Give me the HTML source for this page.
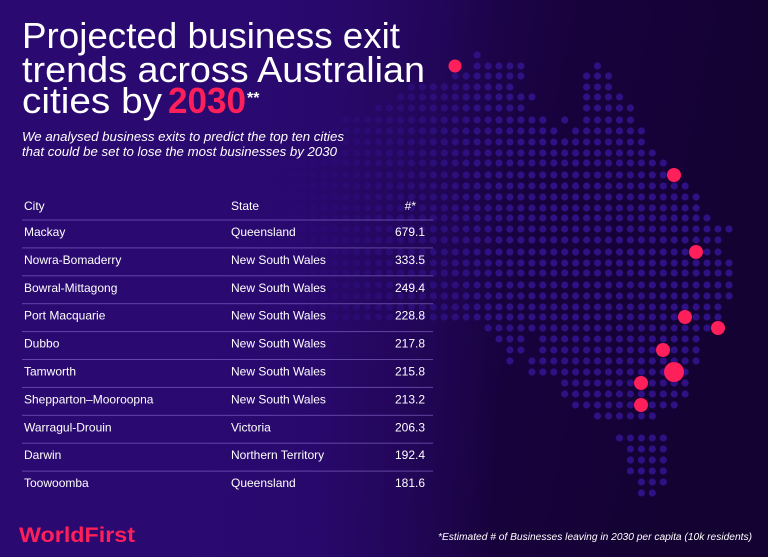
<!DOCTYPE html>
<html><head><meta charset="utf-8"><style>
html,body{margin:0;padding:0;background:#1a0340;}
svg{display:block}
text{font-family:"Liberation Sans",sans-serif;}
</style></head><body>
<svg id="s" width="768" height="557" viewBox="0 0 768 557" xmlns="http://www.w3.org/2000/svg">
<defs>
<linearGradient id="bg" x1="0" y1="0" x2="1" y2="0.15">
<stop offset="0" stop-color="#2c0a74"/>
<stop offset="0.45" stop-color="#24065e"/>
<stop offset="0.75" stop-color="#18023c"/>
<stop offset="1" stop-color="#140232"/>
</linearGradient>
<linearGradient id="fade" x1="0" y1="0" x2="1" y2="0">
<stop offset="0" stop-color="#2a0970" stop-opacity="1"/>
<stop offset="0.38" stop-color="#2a0970" stop-opacity="0.95"/>
<stop offset="0.55" stop-color="#270866" stop-opacity="0.45"/>
<stop offset="0.65" stop-color="#250864" stop-opacity="0"/>
</linearGradient>
</defs>
<rect width="768" height="557" fill="url(#bg)"/>
<g id="dots" fill="#2f1184"></g>
<rect width="768" height="557" fill="url(#fade)"/>
<g id="red" fill="#ff1f5a">
<circle cx="455" cy="66" r="6.5"/>
<circle cx="674" cy="175" r="7"/>
<circle cx="696" cy="252" r="7"/>
<circle cx="685" cy="317" r="7"/>
<circle cx="718" cy="328" r="7"/>
<circle cx="663" cy="350" r="7"/>
<circle cx="674" cy="372" r="10"/>
<circle cx="641" cy="383" r="7"/>
<circle cx="641" cy="405" r="7"/>
</g>
<g fill="#ffffff">
<text x="22" y="48" font-size="36" textLength="378" lengthAdjust="spacingAndGlyphs">Projected business exit</text>
<text x="22" y="82" font-size="36" textLength="403" lengthAdjust="spacingAndGlyphs">trends across Australian</text>
<text x="22" y="113" font-size="36" textLength="140" lengthAdjust="spacingAndGlyphs">cities by</text>
<text x="168" y="113" font-size="36" font-weight="bold" fill="#ff1f5a" textLength="78" lengthAdjust="spacingAndGlyphs">2030</text>
<text x="247" y="103" font-size="16" font-weight="bold">**</text>
<text x="22" y="141" font-size="13" font-style="italic" textLength="322" lengthAdjust="spacingAndGlyphs">We analysed business exits to predict the top ten cities</text>
<text x="22" y="156" font-size="13" font-style="italic" textLength="315" lengthAdjust="spacingAndGlyphs">that could be set to lose the most businesses by 2030</text>
</g>
<g id="tbl" fill="#ffffff" font-size="12"></g>
<text x="19" y="542" font-size="21" font-weight="bold" fill="#ff1f5a" textLength="116" lengthAdjust="spacingAndGlyphs">WorldFirst</text>
<text x="752" y="540" font-size="10" font-style="italic" fill="#ffffff" text-anchor="end" textLength="314" lengthAdjust="spacingAndGlyphs">*Estimated # of Businesses leaving in 2030 per capita (10k residents)</text>
</svg>
<script>
var NS="http://www.w3.org/2000/svg";
function xs(a){return Math.round((a-433.3)/10.95);}
var rows=[
[55,[[477,477]]],
[66,[[477,520],[597,597]]],
[76,[[455,520],[585,607]]],
[87,[[410,510],[585,608]]],
[97,[[400,532],[585,620]]],
[108,[[380,520],[585,630]]],
[120,[[350,543],[563,563],[585,630]]],
[131,[[330,553],[573,643]]],
[142,[[300,643]]],
[153,[[280,653]]],
[163,[[265,663]]],
[175,[[265,677]]],
[186,[[265,687]]],
[197,[[265,697]]],
[208,[[265,697]]],
[218,[[265,708]]],
[229,[[265,730]]],
[240,[[265,720]]],
[252,[[265,720]]],
[263,[[265,730]]],
[273,[[265,730]]],
[285,[[265,730]]],
[296,[[265,730]]],
[307,[[265,720]]],
[317,[[265,717]]],
[328,[[487,707]]],
[339,[[498,520],[543,697]]],
[350,[[510,520],[543,697]]],
[361,[[510,510],[532,697]]],
[372,[[532,687]]],
[383,[[563,687]]],
[394,[[563,687]]],
[405,[[575,677]]],
[416,[[597,653]]],
[438,[[620,620],[630,663]]],
[449,[[630,663]]],
[460,[[630,663]]],
[471,[[630,663]]],
[482,[[640,663]]],
[493,[[640,653]]]
];
var g=document.getElementById("dots");
rows.forEach(function(r){r[1].forEach(function(seg){for(var k=xs(seg[0]);k<=xs(seg[1]);k++){var c=document.createElementNS(NS,"circle");c.setAttribute("cx",(433.3+k*10.95).toFixed(1));c.setAttribute("cy",r[0]);c.setAttribute("r","3.6");g.appendChild(c);}});});
var data=[["Mackay","Queensland","679.1"],["Nowra-Bomaderry","New South Wales","333.5"],["Bowral-Mittagong","New South Wales","249.4"],["Port Macquarie","New South Wales","228.8"],["Dubbo","New South Wales","217.8"],["Tamworth","New South Wales","215.8"],["Shepparton–Mooroopna","New South Wales","213.2"],["Warragul-Drouin","Victoria","206.3"],["Darwin","Northern Territory","192.4"],["Toowoomba","Queensland","181.6"]];
var t=document.getElementById("tbl");
function tx(x,y,s,anchor){var e=document.createElementNS(NS,"text");e.setAttribute("x",x);e.setAttribute("y",y);if(anchor)e.setAttribute("text-anchor",anchor);e.textContent=s;t.appendChild(e);}
function ln(y){var e=document.createElementNS(NS,"rect");e.setAttribute("x",22);e.setAttribute("y",y);e.setAttribute("width",411);e.setAttribute("height",1);e.setAttribute("fill","#8a6fd0");e.setAttribute("opacity","0.6");t.appendChild(e);}
tx(24,210,"City");tx(231,210,"State");tx(416,210,"#*","end");
for(var i=0;i<10;i++){var y=236+i*27.9;ln(y-16.5);tx(24,y,data[i][0]);tx(231,y,data[i][1]);tx(425,y,data[i][2],"end");}
</script>
</body></html>
